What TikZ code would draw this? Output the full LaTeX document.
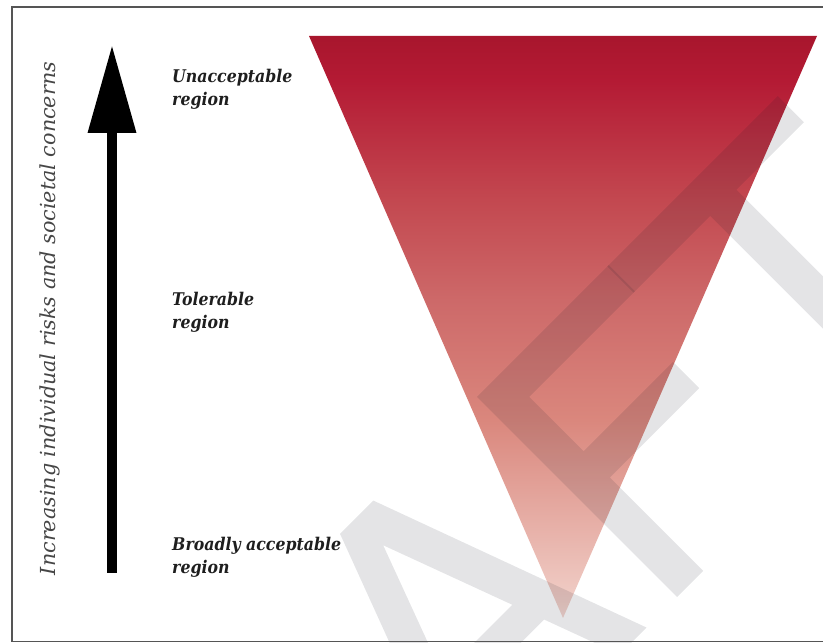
\documentclass[tikz,border=0pt]{standalone}
\usepackage{fontspec}
\setmainfont{DejaVu Serif}
\newfontfamily\labfont[FakeStretch=0.9]{DejaVu Serif}
\usetikzlibrary{arrows.meta}
\definecolor{tc0}{RGB}{244,216,210}
\definecolor{tc1}{RGB}{240,205,198}
\definecolor{tc2}{RGB}{218,135,125}
\definecolor{tc3}{RGB}{205,105,105}
\definecolor{tc4}{RGB}{195,72,80}
\definecolor{tc5}{RGB}{180,26,52}
\definecolor{tc6}{RGB}{168,22,45}
\definecolor{framec}{RGB}{85,85,85}
\definecolor{labc}{RGB}{30,30,30}
\definecolor{sidec}{RGB}{70,70,70}
\definecolor{wmc}{RGB}{20,25,40}
\pgfdeclareverticalshading{riskshade}{100bp}{color(0bp)=(tc0); color(25bp)=(tc0); color(26.5bp)=(tc1); color(42bp)=(tc2); color(52.3bp)=(tc3); color(60.9bp)=(tc4); color(71.2bp)=(tc5); color(75bp)=(tc6); color(100bp)=(tc6)}
\tikzset{
  lab/.style={font=\labfont\bfseries\itshape\fontsize{17.5}{23.5}\selectfont, text=labc, align=left, inner sep=0pt, anchor=base west},
  wmfill/.style={fill=wmc, fill opacity=0.115},
  upshaft/.style={line width=10pt, draw=black, -{Triangle[length=88pt,width=46pt]}}
}
\begin{document}
\begin{tikzpicture}[x=1pt,y=1pt]
\useasboundingbox (0,0) rectangle (823,643);
\fill[white] (0,0) rectangle (823,643);
% triangle
\coordinate (tl) at (309,607);
\coordinate (tr) at (817,607);
\coordinate (ap) at (563,25);
\shade[shading=riskshade] (tl) -- (tr) -- (ap) -- cycle;
% watermark letters A F T (drawn as shapes)
\begin{scope}
\clip (0,0) rectangle (823,643);
\begin{scope}[shift={(637,6)}, rotate=45]
\fill[wmfill, even odd rule] (-243,0) -- (-137,283) -- (-90,283) -- (13.4,0) -- (-24.6,0) -- (-53.3,78) -- (-176.1,78) -- (-205,0) -- cycle
  (-164,111) -- (-65.4,111) -- (-114.6,244.4) -- cycle;
\fill[wmfill] (56.6,0) -- (56.6,283) -- (243,283) -- (243,246) -- (93.6,246) -- (93.6,169) -- (220,169) -- (220,132) -- (93.6,132) -- (93.6,0) -- cycle;
\fill[wmfill] (241,283) -- (482,283) -- (482,246) -- (386.5,246) -- (386.5,0) -- (349.5,0) -- (349.5,246) -- (241,246) -- cycle;
\end{scope}
\end{scope}
% arrow
\coordinate (abot) at (112,70);
\coordinate (atop) at (112,598);
\draw[upshaft] (abot) -- (atop);
% side label
\node[rotate=90, anchor=base, inner sep=0pt, font=\itshape\fontsize{20.7}{20.7}\selectfont, text=sidec] (side) at (55,324.5) {Increasing individual risks and societal concerns};
% region labels
\node[lab] (unacc) at (172,537) {Unacceptable\\region};
\node[lab] (toler) at (172,314) {Tolerable\\region};
\node[lab] (broad) at (172,69) {Broadly acceptable\\region};
% frame
\draw[framec, line width=1.2pt] (12,1.5) rectangle (830,636);
\end{tikzpicture}
\end{document}
